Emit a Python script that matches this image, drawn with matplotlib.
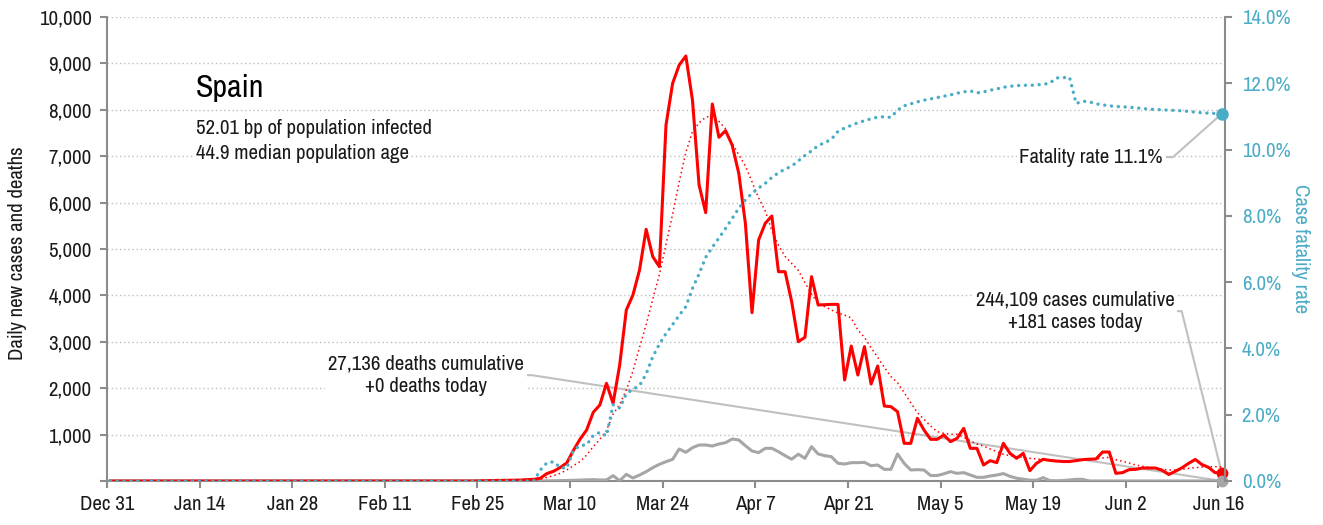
import matplotlib
matplotlib.use('Agg')
import matplotlib.pyplot as plt
import matplotlib.ticker as mticker
import pandas as pd

plt.rcParams['font.family'] = ['Archivo Narrow', 'Roboto Condensed', 'DejaVu Sans']

# daily series, Dec 31 2019 .. Jun 16 2020
first_day = '2019-12-31'
last_day = '2020-06-16'

new_cases = [0] * 56 + [
    5, 8, 10, 12, 15, 15, 20, 30, 35, 60,
    160, 210, 290, 390, 660, 900, 1099, 1480, 1638, 2105,
    1674, 2500, 3685, 4009, 4547, 5424, 4835, 4620, 7672, 8570,
    8966, 9159, 8211, 6379, 5783, 8125, 7407, 7550, 7241, 6631,
    5553, 3628, 5194, 5553, 5711, 4511, 4511, 3865, 3003, 3096,
    4404, 3793, 3800, 3807, 3807, 2177, 2909, 2284, 2895, 2090,
    2478, 1616, 1602, 1494, 812, 812, 1351, 1099, 898, 898,
    991, 848, 920, 1135, 704, 704, 345, 438, 395, 812,
    596, 489, 596, 223, 381, 467, 445, 430, 420, 420,
    440, 460, 470, 475, 625, 625, 165, 180, 245, 251,
    280, 280, 280, 230, 140, 210, 285, 380, 465, 355,
    295, 180, 181]

cases_trend = [0] * 56 + [
    0, 0, 0, 0, 0, 5, 10, 15, 25, 36,
    79, 115, 165, 237, 330, 417, 560, 740, 898, 1085,
    1440, 1650, 1960, 2370, 2880, 3370, 3920, 4450, 5100, 5750,
    6450, 7080, 7530, 7720, 7840, 7870, 7750, 7590, 7280, 7030,
    6790, 6450, 6100, 5820, 5400, 5080, 4840, 4690, 4540, 4274,
    4030, 3829, 3757, 3685, 3620, 3575, 3515, 3254, 3096, 2874,
    2665, 2450, 2249, 2119, 1904, 1688, 1473, 1329, 1185, 1063,
    1027, 1006, 1006, 941, 869, 797, 754, 690, 632, 575,
    546, 524, 510, 489, 474, 460, 445, 438, 424, 431,
    445, 453, 453, 474, 496, 510, 460, 424, 388, 345,
    316, 295, 273, 251, 237, 237, 251, 273, 287, 302,
    309, 309, 302]

new_deaths = [0] * 56 + [
    0, 0, 0, 0, 0, 0, 0, 0, 1, 2,
    3, 5, 8, 10, 15, 20, 25, 30, 22, 22,
    115, 5, 144, 65, 129, 201, 287, 359, 417, 467,
    690, 618, 718, 776, 776, 754, 797, 826, 905, 884,
    761, 647, 611, 704, 704, 632, 546, 470, 578, 489,
    740, 582, 546, 524, 381, 366, 395, 395, 402, 330,
    345, 251, 251, 582, 380, 237, 244, 237, 118, 118,
    155, 201, 165, 180, 129, 79, 79, 108, 129, 160,
    100, 60, 40, 18, 15, 72, 10, 5, 10, 22,
    36, 36, 0, 0, 0, 0, 0, 0, 0, 0,
    0, 0, 0, 0, 0, 0, 0, 0, 0, 0,
    0, 0, 0]

fatality_pct = [0] * 56 + [
    0, 0, 0, 0, 0, 0, 0, 0, 0, 0.33,
    0.55, 0.58, 0.41, 0.38, 0.92, 1.07, 1.09, 1.37, 1.47, 1.36,
    2.30, 2.20, 2.63, 2.77, 2.88, 3.23, 3.75, 4.13, 4.45, 4.72,
    5.00, 5.26, 5.81, 6.25, 6.75, 7.05, 7.33, 7.62, 7.92, 8.23,
    8.48, 8.68, 8.84, 8.98, 9.16, 9.30, 9.41, 9.50, 9.66, 9.82,
    9.96, 10.12, 10.21, 10.31, 10.55, 10.65, 10.73, 10.81, 10.87, 10.93,
    10.98, 10.99, 10.97, 11.19, 11.32, 11.38, 11.44, 11.49, 11.53, 11.57,
    11.61, 11.65, 11.70, 11.74, 11.77, 11.71, 11.74, 11.79, 11.83, 11.88,
    11.91, 11.93, 11.94, 11.94, 11.95, 11.97, 12.00, 12.16, 12.17, 12.18,
    11.39, 11.46, 11.44, 11.38, 11.35, 11.32, 11.30, 11.29, 11.28, 11.26,
    11.24, 11.22, 11.21, 11.20, 11.19, 11.18, 11.17, 11.15, 11.13, 11.11,
    11.10, 11.09, 11.08]

country = 'Spain'
info_lines = ['52.01 bp of population infected', '44.9 median population age']
deaths_note = '27,136 deaths cumulative\n+0 deaths today'
cases_note = '244,109 cases cumulative\n+181 cases today'
fatality_note = 'Fatality rate 11.1%'

RED = '#ff0000'
GREY = '#a6a6a6'
TEAL = '#4bacc6'
AXIS = '#8c8c8c'
TXT = '#1a1a1a'
FS = 15

dates = pd.date_range(first_day, last_day, freq='D')
x = dates + pd.Timedelta(hours=12)
rate = [v / 100 for v in fatality_pct]

fig = plt.figure(figsize=(13.23, 5.25), dpi=100)
ax = fig.add_axes([107 / 1323, 44 / 525, 1118 / 1323, 464 / 525])
ax2 = ax.twinx()

ax.plot(x, new_deaths, color=GREY, lw=2.2, zorder=3)
ax.plot(x, cases_trend, color=RED, lw=1.1, ls=(0, (1, 2)), zorder=3)
ax.plot(x, new_cases, color=RED, lw=2.2, zorder=4)
ax.plot(x[-1], new_cases[-1], 'o', color=RED, ms=7.5, zorder=5, clip_on=False)
ax.plot(x[-1], new_deaths[-1], 'o', color=GREY, ms=7.5, zorder=5, clip_on=False)

ax2.plot(x, rate, color=TEAL, lw=2.4, ls=(0, (0.05, 2.0)),
         dash_capstyle='round', zorder=3)
ax2.plot(x[-1], rate[-1], 'o', color=TEAL, ms=8, zorder=5, clip_on=False)

# axes, ticks, grid
ax.set_xlim(dates[0], dates[-1] + pd.Timedelta(days=1))
ax.set_ylim(0, 10000)
ax2.set_ylim(0, 0.14)

ax.set_yticks(range(0, 10001, 1000))
ax.yaxis.set_major_formatter(mticker.FuncFormatter(
    lambda v, p: '' if v == 0 else f'{v:,.0f}'))
ax2.set_yticks([i / 100 for i in range(0, 15, 2)])
ax2.yaxis.set_major_formatter(mticker.FuncFormatter(lambda v, p: f'{v:.1%}'))

xticks = pd.date_range(first_day, last_day, freq='14D')
ax.set_xticks(xticks)
ax.set_xticklabels([f'{d:%b} {d.day}' for d in xticks])

ax.yaxis.grid(True, color='#bfbfbf', ls=(0, (1, 2)), lw=1)
ax.set_axisbelow(True)

for a in (ax, ax2):
    for s in a.spines.values():
        s.set_color(AXIS)
        s.set_linewidth(1.5)
    a.spines['top'].set_visible(False)
ax.spines['right'].set_visible(False)
ax2.spines['left'].set_visible(False)
ax2.spines['bottom'].set_visible(False)

ax.tick_params(axis='both', colors=AXIS, labelcolor=TXT, labelsize=FS,
               length=5, width=1.5)
ax.tick_params(axis='y', pad=6)
ax.tick_params(axis='x', pad=5)
ax2.tick_params(axis='y', colors=AXIS, labelcolor=TEAL, labelsize=FS,
                length=5, width=1.5, pad=7)

ax.set_ylabel('Daily new cases and deaths', fontsize=FS, color=TXT)
ax.yaxis.set_label_coords(-0.0716, 0.49)
ax2.set_ylabel('Case fatality rate', fontsize=FS, color=TEAL, rotation=270)
ax2.yaxis.set_label_coords(1.076, 0.5)

# title block
box = dict(facecolor='white', edgecolor='none', pad=1)
ax.text(0.0796, 0.828, country, transform=ax.transAxes, fontsize=23,
        color='black', va='baseline', bbox=box, zorder=6)
for line, yy in zip(info_lines, [0.748, 0.694]):
    ax.text(0.0796, yy, line, transform=ax.transAxes, fontsize=FS,
            color=TXT, va='baseline', bbox=box, zorder=6)

# callouts
lead = dict(arrowstyle='-', color='#c0c0c0', lw=1.5, shrinkA=0, shrinkB=0,
            relpos=(1, 0.5))
ax.annotate(deaths_note, xy=(x[-1], new_deaths[-1]), xytext=(0.373, 0.228),
            textcoords='axes fraction', ha='right', va='center',
            multialignment='center', fontsize=FS, color=TXT,
            bbox=dict(facecolor='white', edgecolor='none', pad=2),
            arrowprops=dict(lead, connectionstyle='arc,angleA=0,armA=8,rad=0'),
            zorder=2)
ax.annotate(cases_note, xy=(x[-1], new_cases[-1]), xytext=(0.955, 0.366),
            textcoords='axes fraction', ha='right', va='center',
            multialignment='center', fontsize=FS, color=TXT,
            bbox=dict(facecolor='white', edgecolor='none', pad=2),
            arrowprops=dict(lead, connectionstyle='arc,angleA=0,armA=7,rad=0'),
            zorder=2)
ax2.annotate(fatality_note, xy=(x[-1], rate[-1]), xytext=(0.9445, 0.698),
             textcoords='axes fraction', ha='right', va='center',
             fontsize=FS, color=TXT,
             bbox=dict(facecolor='white', edgecolor='none', pad=2),
             arrowprops=dict(lead, connectionstyle='arc,angleA=0,armA=10,rad=0'),
             zorder=2)

fig.savefig('out.png', dpi=100)
